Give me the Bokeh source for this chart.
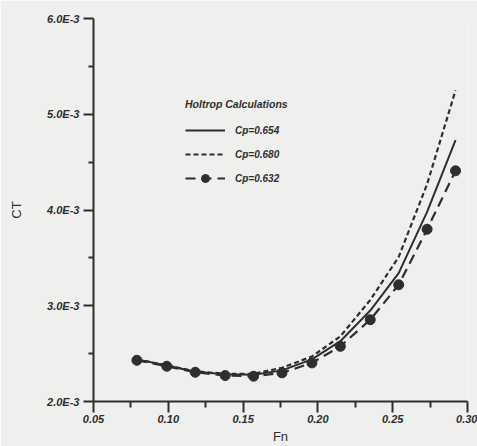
from bokeh.plotting import figure
from bokeh.models import Range1d, FixedTicker, Legend, LegendItem
from bokeh.embed import file_html
from bokeh.resources import INLINE

# ---- data ----
fn = [0.079, 0.099, 0.118, 0.138, 0.157, 0.176, 0.196, 0.215, 0.235, 0.254, 0.273, 0.292]
ct_654 = [2.44e-3, 2.375e-3, 2.31e-3, 2.285e-3, 2.28e-3, 2.325e-3, 2.44e-3, 2.63e-3, 2.95e-3, 3.34e-3, 3.98e-3, 4.73e-3]
ct_680 = [2.44e-3, 2.378e-3, 2.315e-3, 2.29e-3, 2.29e-3, 2.352e-3, 2.47e-3, 2.68e-3, 3.06e-3, 3.51e-3, 4.27e-3, 5.25e-3]
ct_632 = [2.43e-3, 2.368e-3, 2.305e-3, 2.271e-3, 2.264e-3, 2.299e-3, 2.403e-3, 2.576e-3, 2.854e-3, 3.219e-3, 3.799e-3, 4.409e-3]

series_labels = ["Cp=0.654", "Cp=0.680", "Cp=0.632"]
legend_title = "Holtrop Calculations"

x_ticks = [0.05, 0.10, 0.15, 0.20, 0.25, 0.30]
x_tick_labels = ["0.05", "0.10", "0.15", "0.20", "0.25", "0.30"]
x_minor = [0.075, 0.125, 0.175, 0.225, 0.275]
y_ticks = [0.002, 0.003, 0.004, 0.005, 0.006]
y_tick_labels = ["2.0E-3", "3.0E-3", "4.0E-3", "5.0E-3", "6.0E-3"]
y_minor = [0.0025, 0.0035, 0.0045, 0.0055]

INK = "#2e2e2e"
BG = "#efefed"

p = figure(width=477, height=446, output_backend="svg", toolbar_location=None,
           x_range=Range1d(0.05, 0.30), y_range=Range1d(0.002, 0.006),
           min_border_left=93, min_border_right=10, min_border_top=18, min_border_bottom=45,
           background_fill_color=BG, border_fill_color=BG)
p.outline_line_color = None
p.xgrid.visible = False
p.ygrid.visible = False

# axes
p.xaxis.ticker = FixedTicker(ticks=x_ticks, minor_ticks=x_minor)
p.xaxis.major_label_overrides = dict(zip(x_ticks, x_tick_labels))
p.yaxis.ticker = FixedTicker(ticks=y_ticks, minor_ticks=y_minor)
p.yaxis.major_label_overrides = dict(zip(y_ticks, y_tick_labels))

for ax in (p.xaxis, p.yaxis):
    ax.axis_line_color = INK
    ax.axis_line_width = 2
    ax.major_tick_line_color = INK
    ax.major_tick_line_width = 2
    ax.minor_tick_line_color = INK
    ax.minor_tick_line_width = 2
    ax.major_tick_in = 0
    ax.minor_tick_in = 0
    ax.major_label_text_font = "Liberation Sans"
    ax.major_label_text_font_style = "bold italic"
    ax.major_label_text_font_size = "11px"
    ax.major_label_text_color = INK
    ax.axis_label_text_font = "Liberation Sans"
    ax.axis_label_text_font_style = "normal"
    ax.axis_label_text_font_size = "13px"
    ax.axis_label_text_color = INK

p.xaxis.major_tick_out = 11
p.xaxis.minor_tick_out = 6
p.xaxis.major_label_standoff = 2
p.xaxis.axis_label = "Fn"
p.xaxis.axis_label_standoff = 3

p.yaxis.major_tick_out = 10
p.yaxis.minor_tick_out = 5
p.yaxis.major_label_standoff = 4
p.yaxis.axis_label = "CT"
p.yaxis.axis_label_standoff = 20

# series
r1 = p.line(fn, ct_654, line_color=INK, line_width=2)
r2 = p.line(fn, ct_680, line_color=INK, line_width=2.2, line_dash="5 3")
r3 = p.line(fn, ct_632, line_color=INK, line_width=2.2, line_dash="10 6")
r4 = p.scatter(fn, ct_632, size=10, fill_color=INK, line_color=INK)

legend = Legend(items=[LegendItem(label=series_labels[0], renderers=[r1]),
                       LegendItem(label=series_labels[1], renderers=[r2]),
                       LegendItem(label=series_labels[2], renderers=[r3, r4])],
                location=(92, 213), title=legend_title)
legend.title_text_font = "Liberation Sans"
legend.title_text_font_style = "bold italic"
legend.title_text_font_size = "10.5px"
legend.title_text_color = INK
legend.title_standoff = 10
legend.label_text_font = "Liberation Sans"
legend.label_text_font_style = "bold italic"
legend.label_text_font_size = "10px"
legend.label_text_color = INK
legend.glyph_width = 40
legend.glyph_height = 20
legend.spacing = 4
legend.label_standoff = 10
legend.padding = 0
legend.margin = 0
legend.border_line_alpha = 0
legend.background_fill_alpha = 0
p.add_layout(legend)

open("out.html", "w").write(file_html(p, INLINE))
